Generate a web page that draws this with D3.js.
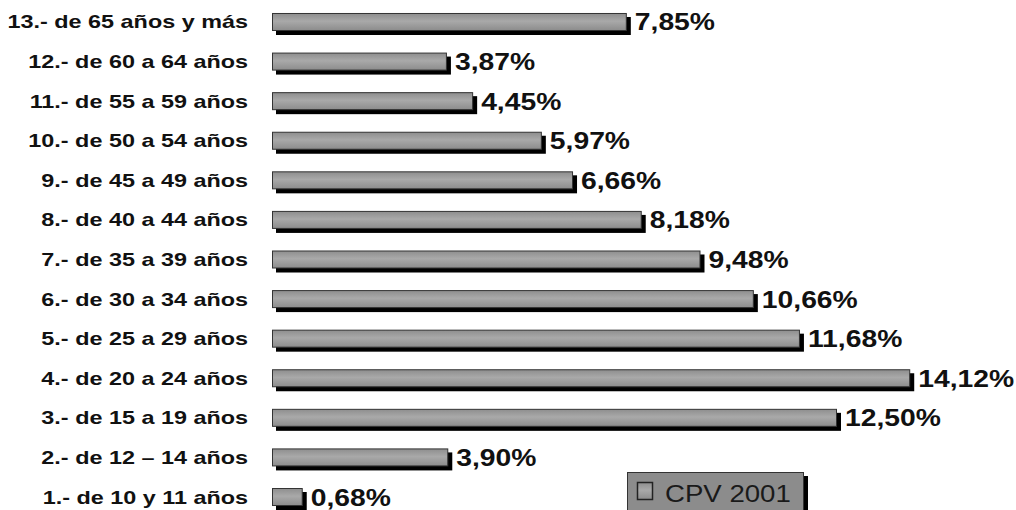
<!DOCTYPE html>
<html>
<head>
<meta charset="utf-8">
<script src="https://cdn.jsdelivr.net/npm/d3@7"></script>
<style>
  body { margin: 0; background: #fff; }
  svg { display: block; }
</style>
</head>
<body>
<div id="chart"></div>
<script>
// grupos de edad, de abajo hacia arriba
var categories = [
    "1.- de 10 y 11 años",
    "2.- de 12 \u2013 14 años",
    "3.- de 15 a 19 años",
    "4.- de 20 a 24 años",
    "5.- de 25 a 29 años",
    "6.- de 30 a 34 años",
    "7.- de 35 a 39 años",
    "8.- de 40 a 44 años",
    "9.- de 45 a 49 años",
    "10.- de 50 a 54 años",
    "11.- de 55 a 59 años",
    "12.- de 60 a 64 años",
    "13.- de 65 años y más"
];
var values = [0.68, 3.90, 12.50, 14.12, 11.68, 10.66, 9.48, 8.18, 6.66, 5.97, 4.45, 3.87, 7.85];
var seriesName = "CPV 2001";

var w = 1016, h = 510;

var data = categories.map(function (c, i) {
    return {cat: c, value: values[i]};
});

var svg = d3.select("#chart").append("svg")
    .attr("width", w)
    .attr("height", h);

var defs = svg.append("defs");
var grad = defs.append("linearGradient")
    .attr("id", "barGrad")
    .attr("x1", 0).attr("y1", 0).attr("x2", 0).attr("y2", 1);
grad.append("stop").attr("offset", "0%").attr("stop-color", "#8e8e8e");
grad.append("stop").attr("offset", "45%").attr("stop-color", "#a9a9a9");
grad.append("stop").attr("offset", "100%").attr("stop-color", "#8c8c8c");

var x = d3.scaleLinear()
    .domain([0, 15])
    .range([272, 272 + 15 * 45.2]);

// la categoria 13 va arriba
var y = d3.scaleBand()
    .domain(categories.slice().reverse())
    .range([2.2, 516.8])
    .paddingInner(0.545)
    .paddingOuter(0.2725);

var shadow = 4;

var rows = svg.selectAll("g.row")
    .data(data)
    .enter()
    .append("g")
    .attr("class", "row");

// sombra negra
rows.append("rect")
    .attr("x", x(0) + shadow)
    .attr("y", function (d) { return y(d.cat) + shadow; })
    .attr("width", function (d) { return x(d.value) - x(0); })
    .attr("height", y.bandwidth())
    .style("fill", "#000");

// barra
rows.append("rect")
    .attr("x", x(0) + 0.5)
    .attr("y", function (d) { return y(d.cat) + 0.5; })
    .attr("width", function (d) { return x(d.value) - x(0) - 1; })
    .attr("height", y.bandwidth() - 1)
    .style("fill", "url(#barGrad)")
    .style("stroke", "#333")
    .style("stroke-width", 1);

// etiquetas de categoria
rows.append("text")
    .attr("transform", function (d) {
        return "translate(248," + (y(d.cat) + y.bandwidth() / 2 + 6.5) + ") scale(1.3,1)";
    })
    .attr("text-anchor", "end")
    .style("font-family", "Liberation Sans, Arial, sans-serif")
    .style("font-weight", "bold")
    .style("font-size", "18px")
    .style("fill", "#111")
    .text(function (d) { return d.cat; });

// etiquetas de valor
rows.append("text")
    .attr("transform", function (d) {
        return "translate(" + (x(d.value) + shadow + 4) + "," + (y(d.cat) + y.bandwidth() / 2 + 8.5) + ") scale(1.23,1)";
    })
    .style("font-family", "Liberation Sans, Arial, sans-serif")
    .style("font-weight", "bold")
    .style("font-size", "23px")
    .style("fill", "#111")
    .text(function (d) { return d.value.toFixed(2).replace(".", ",") + "%"; });

// leyenda
var legend = svg.append("g").attr("transform", "translate(627,472)");
legend.append("rect")
    .attr("x", 5).attr("y", 4)
    .attr("width", 176).attr("height", 40)
    .style("fill", "#000");
legend.append("rect")
    .attr("x", 0.5).attr("y", 0.5)
    .attr("width", 176).attr("height", 40)
    .style("fill", "#8c8c8c")
    .style("stroke", "#333");
legend.append("rect")
    .attr("x", 10.5).attr("y", 10.5)
    .attr("width", 15).attr("height", 17)
    .style("fill", "url(#barGrad)")
    .style("stroke", "#222")
    .style("stroke-width", 1.5);
legend.append("text")
    .attr("transform", "translate(38,30) scale(1.15,1)")
    .style("font-family", "Liberation Sans, Arial, sans-serif")
    .style("font-size", "24px")
    .style("fill", "#1a1a1a")
    .text(seriesName);
</script>
</body>
</html>
